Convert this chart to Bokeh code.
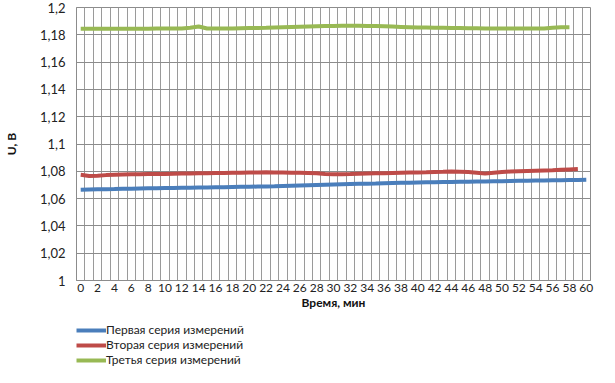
from bokeh.plotting import figure
from bokeh.layouts import column
from bokeh.models import FixedTicker, Legend, LegendItem, Range1d
from bokeh.embed import file_html
from bokeh.resources import INLINE

minutes_blue = list(range(0, 61))
minutes_red = list(range(0, 60))
minutes_green = list(range(0, 59))

series1 = [1.0664, 1.0666, 1.0668, 1.0669, 1.0670, 1.0672, 1.0673, 1.0674, 1.0675, 1.0676,
           1.0677, 1.0678, 1.0679, 1.0680, 1.0681, 1.0682, 1.0683, 1.0684, 1.0685, 1.0686,
           1.0687, 1.0688, 1.0689, 1.0690, 1.0692, 1.0694, 1.0696, 1.0698, 1.0700, 1.0702,
           1.0704, 1.0706, 1.0707, 1.0708, 1.0709, 1.0710, 1.0712, 1.0714, 1.0716, 1.0717,
           1.0718, 1.0719, 1.0720, 1.0721, 1.0722, 1.0723, 1.0724, 1.0725, 1.0726, 1.0727,
           1.0728, 1.0729, 1.0730, 1.0731, 1.0732, 1.0733, 1.0734, 1.0735, 1.0736, 1.0737,
           1.0738]

series2 = [1.0774, 1.0766, 1.0768, 1.0772, 1.0774, 1.0776, 1.0778, 1.0779, 1.0780, 1.0780,
           1.0781, 1.0782, 1.0783, 1.0784, 1.0785, 1.0786, 1.0787, 1.0788, 1.0789, 1.0790,
           1.0791, 1.0792, 1.0793, 1.0792, 1.0791, 1.0790, 1.0789, 1.0787, 1.0785, 1.0781,
           1.0779, 1.0779, 1.0780, 1.0782, 1.0784, 1.0785, 1.0786, 1.0788, 1.0790, 1.0791,
           1.0792, 1.0793, 1.0795, 1.0796, 1.0798, 1.0797, 1.0795, 1.0790, 1.0783, 1.0790,
           1.0795, 1.0798, 1.0800, 1.0802, 1.0804, 1.0806, 1.0808, 1.0811, 1.0814, 1.0817]

series3 = [1.1844, 1.1844, 1.1845, 1.1845, 1.1845, 1.1845, 1.1845, 1.1845, 1.1845, 1.1846,
           1.1846, 1.1846, 1.1847, 1.1852, 1.1861, 1.1846, 1.1846, 1.1847, 1.1847, 1.1848,
           1.1849, 1.1850, 1.1851, 1.1853, 1.1855, 1.1857, 1.1859, 1.1861, 1.1863, 1.1864,
           1.1865, 1.1866, 1.1866, 1.1866, 1.1865, 1.1864, 1.1862, 1.1860, 1.1858, 1.1856,
           1.1854, 1.1853, 1.1852, 1.1851, 1.1850, 1.1849, 1.1848, 1.1848, 1.1847, 1.1847,
           1.1846, 1.1846, 1.1846, 1.1846, 1.1846, 1.1847, 1.1852, 1.1856, 1.1856]

series_names = ["Первая серия измерений", "Вторая серия измерений", "Третья серия измерений"]
series_colors = ["#4A7EBB", "#BE4B48", "#98B954"]

x_tick_values = list(range(0, 61, 2))
y_tick_values = [1.0, 1.02, 1.04, 1.06, 1.08, 1.1, 1.12, 1.14, 1.16, 1.18, 1.2]
y_tick_labels = ["1", "1,02", "1,04", "1,06", "1,08", "1,1", "1,12", "1,14", "1,16", "1,18", "1,2"]
x_title = "Время, мин"
y_title = "U, В"

FONT = "Lato"

# ---------------- main chart ----------------
p = figure(width=599, height=322, output_backend="svg", toolbar_location=None,
           x_range=Range1d(-0.5, 60.5), y_range=Range1d(1.0, 1.2),
           min_border_left=65, min_border_right=9, min_border_top=7, min_border_bottom=42)
p.background_fill_color = "white"
p.border_fill_color = "white"
p.outline_line_color = "#8C8C8C"
p.outline_line_width = 1

all_x = [minutes_blue, minutes_red, minutes_green]
all_y = [series1, series2, series3]
for xs, ys, c in zip(all_x, all_y, series_colors):
    p.line(xs, ys, line_color=c, line_width=4)

p.xaxis.ticker = FixedTicker(ticks=x_tick_values)
p.yaxis.ticker = FixedTicker(ticks=y_tick_values)
p.yaxis.major_label_overrides = {v: l for v, l in zip(y_tick_values, y_tick_labels)}
for ax in (p.xaxis[0], p.yaxis[0]):
    ax.axis_line_color = "#8C8C8C"
    ax.major_tick_line_color = None
    ax.minor_tick_line_color = None
    ax.major_tick_out = 0
    ax.major_tick_in = 0
    ax.minor_tick_out = 0
    ax.minor_tick_in = 0
    ax.major_label_text_font = FONT
    ax.major_label_text_font_size = "12px"
    ax.major_label_text_color = "#222222"
    ax.axis_label_text_font = FONT
    ax.axis_label_text_font_style = "bold"
    ax.axis_label_text_font_size = "12px"
    ax.axis_label_text_color = "#111111"
p.yaxis.major_label_text_font_size = "13px"
p.xaxis.axis_label = x_title
p.yaxis.axis_label = y_title
p.xaxis.major_label_standoff = 3
p.yaxis.major_label_standoff = 11
p.xaxis.axis_label_standoff = 0
p.yaxis.axis_label_standoff = 18

p.xgrid.ticker = FixedTicker(ticks=[i - 0.5 for i in range(62)])
p.xgrid.grid_line_color = "#9A9A9A"
p.xgrid.grid_line_width = 1
p.ygrid.grid_line_color = "#8C8C8C"
p.ygrid.grid_line_width = 1

# ---------------- legend strip ----------------
lg = figure(width=599, height=45, output_backend="svg", toolbar_location=None,
            x_range=Range1d(0, 1), y_range=Range1d(0, 1),
            x_axis_type=None, y_axis_type=None,
            min_border_left=49, min_border_right=0, min_border_top=0, min_border_bottom=0)
lg.grid.visible = False
lg.outline_line_color = None
lg.background_fill_color = "white"
lg.border_fill_color = "white"

items = []
for xs, ys, c, name in zip(all_x, all_y, series_colors, series_names):
    r = lg.line(xs, ys, line_color=c, line_width=4)  # data lies outside this strip's range
    items.append(LegendItem(label=name, renderers=[r]))

legend = Legend(items=items, orientation="vertical", location="top_left",
                label_text_font=FONT, label_text_font_size="12px", label_text_color="#222222",
                glyph_width=30, glyph_height=14, label_height=14, label_standoff=0,
                spacing=0, padding=0, margin=0, border_line_color=None,
                background_fill_alpha=0)
lg.add_layout(legend)

layout = column(p, lg, spacing=0)
open("out.html", "w").write(file_html(layout, INLINE))
